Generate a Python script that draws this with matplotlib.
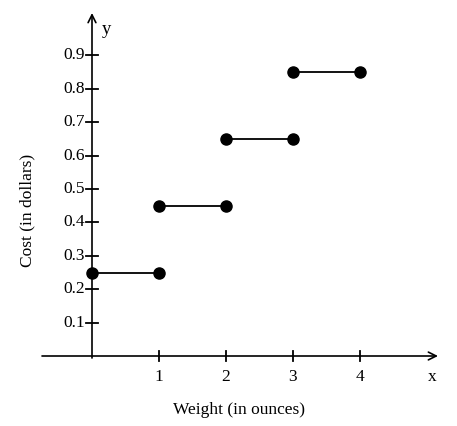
import matplotlib
matplotlib.use("Agg")
import matplotlib.pyplot as plt

# data
x_starts = [0, 1, 2, 3]
x_ends = [1, 2, 3, 4]
costs = [0.25, 0.45, 0.65, 0.85]
x_ticks = [1, 2, 3, 4]
y_ticks = [0.1, 0.2, 0.3, 0.4, 0.5, 0.6, 0.7, 0.8, 0.9]

plt.rcParams['font.family'] = ['Liberation Serif', 'DejaVu Serif']

W, H = 457, 426
fig = plt.figure(figsize=(W / 100, H / 100), dpi=100)
ax = fig.add_axes([0, 0, 1, 1])
ax.axis('off')

# pixel mapping: x_px = 92 + 67*x ; y_px = 356 - 334*y
x0, sx = 92.0, 67.0
y0, sy = 356.0, 334.0
ax.set_xlim(-x0 / sx, (W - x0) / sx)
ax.set_ylim(-(H - y0) / sy, y0 / sy)

px = 1 / sx  # one pixel in x data units
py = 1 / sy  # one pixel in y data units

fs = 12.5

# axes with arrows
ax.annotate('', xy=((438 - x0) / sx, 0), xytext=((42 - x0) / sx, 0),
            arrowprops=dict(arrowstyle='->', color='black', lw=1.2,
                            mutation_scale=14, shrinkA=0, shrinkB=0))
ax.annotate('', xy=(0, (y0 - 13) / sy), xytext=(0, (y0 - 358) / sy),
            arrowprops=dict(arrowstyle='->', color='black', lw=1.2,
                            mutation_scale=14, shrinkA=0, shrinkB=0))

# ticks
for t in x_ticks:
    ax.plot([t, t], [-5 * py, 5 * py], color='black', lw=1.3)
    ax.text(t, -21 * py, str(t), ha='center', va='center', fontsize=fs)
for t in y_ticks:
    ax.plot([-6 * px, 6 * px], [t, t], color='black', lw=1.3)
    ax.text(-7 * px, t, f"{t:.1f}", ha='right', va='center', fontsize=fs)

ax.text((432 - x0) / sx, -21 * py, 'x', ha='center', va='center', fontsize=fs)
ax.text((107 - x0) / sx, (y0 - 30) / sy, 'y', ha='center', va='center', fontsize=fs + 1)

ax.text((239 - x0) / sx, (y0 - 410) / sy, 'Weight (in ounces)', ha='center',
        va='center', fontsize=fs)
ax.text((27 - x0) / sx, (y0 - 210) / sy, 'Cost (in dollars)', ha='center',
        va='center', rotation=90, fontsize=fs)

# step segments
for xs, xe, c in zip(x_starts, x_ends, costs):
    ax.plot([xs, xe], [c, c], color='black', lw=1.3, zorder=3)
    ax.plot([xs, xe], [c, c], 'o', color='black', markersize=8, zorder=4)

fig.savefig('out.png', dpi=100)
